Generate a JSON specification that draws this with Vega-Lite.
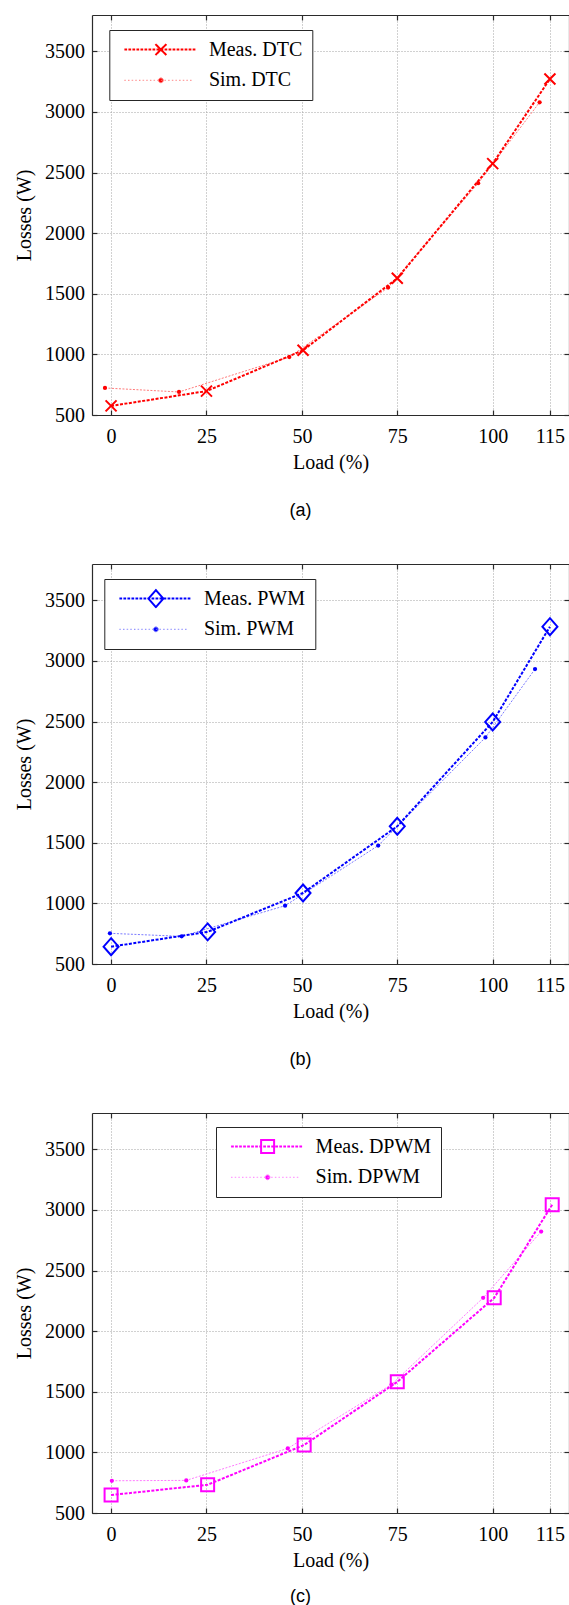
{
  "$schema": "https://vega.github.io/schema/vega-lite/v6.json",
  "background": "white",
  "padding": {"left": 14, "top": 14, "right": 0, "bottom": 0},
  "bounds": "flush",
  "spacing": 149,
  "resolve": {"scale": {"color": "independent"}, "legend": {"color": "independent"}},
  "datasets": {
    "dtcMeas": [
      {"load": 0, "loss": 575, "series": "Meas. DTC"},
      {"load": 25, "loss": 697, "series": "Meas. DTC"},
      {"load": 50.3, "loss": 1034, "series": "Meas. DTC"},
      {"load": 75, "loss": 1628, "series": "Meas. DTC"},
      {"load": 100, "loss": 2574, "series": "Meas. DTC"},
      {"load": 115, "loss": 3272, "series": "Meas. DTC"}
    ],
    "dtcSim": [
      {"load": -1.6, "loss": 723, "series": "Sim. DTC"},
      {"load": 17.8, "loss": 690, "series": "Sim. DTC"},
      {"load": 46.7, "loss": 978, "series": "Sim. DTC"},
      {"load": 72.6, "loss": 1551, "series": "Sim. DTC"},
      {"load": 96.2, "loss": 2412, "series": "Sim. DTC"},
      {"load": 112.3, "loss": 3080, "series": "Sim. DTC"}
    ],
    "pwmMeas": [
      {"load": 0, "loss": 643, "series": "Meas. PWM"},
      {"load": 25.3, "loss": 765, "series": "Meas. PWM"},
      {"load": 50.3, "loss": 1086, "series": "Meas. PWM"},
      {"load": 75, "loss": 1636, "series": "Meas. PWM"},
      {"load": 100, "loss": 2497, "series": "Meas. PWM"},
      {"load": 115, "loss": 3283, "series": "Meas. PWM"}
    ],
    "pwmSim": [
      {"load": -0.3, "loss": 753, "series": "Sim. PWM"},
      {"load": 18.5, "loss": 728, "series": "Sim. PWM"},
      {"load": 45.6, "loss": 981, "series": "Sim. PWM"},
      {"load": 70.0, "loss": 1477, "series": "Sim. PWM"},
      {"load": 98.1, "loss": 2369, "series": "Sim. PWM"},
      {"load": 111.1, "loss": 2933, "series": "Sim. PWM"}
    ],
    "dpwmMeas": [
      {"load": 0, "loss": 648, "series": "Meas. DPWM"},
      {"load": 25.3, "loss": 733, "series": "Meas. DPWM"},
      {"load": 50.6, "loss": 1061, "series": "Meas. DPWM"},
      {"load": 75, "loss": 1582, "series": "Meas. DPWM"},
      {"load": 100.4, "loss": 2275, "series": "Meas. DPWM"},
      {"load": 115.6, "loss": 3044, "series": "Meas. DPWM"}
    ],
    "dpwmSim": [
      {"load": 0.2, "loss": 766, "series": "Sim. DPWM"},
      {"load": 19.7, "loss": 769, "series": "Sim. DPWM"},
      {"load": 46.3, "loss": 1033, "series": "Sim. DPWM"},
      {"load": 73.5, "loss": 1560, "series": "Sim. DPWM"},
      {"load": 97.5, "loss": 2275, "series": "Sim. DPWM"},
      {"load": 112.7, "loss": 2822, "series": "Sim. DPWM"}
    ]
  },
  "config": {
    "view": {"stroke": null},
    "axis": {
      "labelFont": "Liberation Serif", "labelFontSize": 20, "labelColor": "#000000",
      "titleFont": "Liberation Serif", "titleFontSize": 20, "titleFontWeight": "normal", "titleColor": "#000000",
      "domainColor": "#2b2b2b", "domainWidth": 1.2,
      "tickColor": "#2b2b2b", "tickWidth": 1.2, "tickSize": -5,
      "gridColor": "#a3a3a3", "gridDash": [1, 2], "gridWidth": 1, "gridOpacity": 1,
      "format": "d"
    },
    "legend": {
      "labelFont": "Liberation Serif", "labelFontSize": 20, "labelColor": "#000000", "labelLimit": 400,
      "padding": 9.6, "rowPadding": 10.7, "symbolOffset": 5, "labelOffset": 11, "clipHeight": 20,
      "symbolSize": 5329, "symbolStrokeWidth": 2, "strokeColor": "#262626", "fillColor": "#ffffff", "cornerRadius": 0
    }
  },
  "vconcat": [
    {
      "width": 477, "height": 400,
      "title": {"text": "(a)", "orient": "bottom", "anchor": "middle", "frame": "group", "dx": -30, "offset": 30, "font": "Liberation Sans", "fontSize": 18, "fontWeight": "normal", "color": "#000000"},
      "resolve": {"axis": {"x": "independent", "y": "independent"}},
      "layer": [
        {
          "data": {"name": "dtcSim"},
          "mark": {"type": "line", "strokeWidth": 1, "strokeDash": [2, 1.5]},
          "encoding": {
            "x": {"field": "load", "type": "quantitative", "scale": {"domain": [-5, 120], "nice": false, "zero": false}, "axis": {"orient": "top", "labels": false, "grid": false, "values": [0, 25, 50, 75, 100, 115], "title": null}},
            "y": {"field": "loss", "type": "quantitative", "scale": {"domain": [500, 3800], "nice": false, "zero": false}, "axis": {"orient": "right", "labels": false, "grid": false, "values": [500, 1000, 1500, 2000, 2500, 3000, 3500], "title": null}},
            "color": {"field": "series", "type": "nominal", "scale": {"domain": ["Meas. DTC", "Sim. DTC"], "range": ["#ff0000", "#ff7a7a"]},
              "legend": {"orient": "none", "legendX": 17.3, "legendY": 15, "title": null,
                "encode": {"symbols": {"update": {
                  "size": {"value": 5329},
                  "shape": {"signal": "(datum.index === 0 ? 'M-1,0h0.075m0.035,0h0.075m0.035,0h0.075m0.035,0h0.075m0.035,0h0.075m0.035,0h0.075m0.035,0h0.075m0.035,0h0.075m0.035,0h0.075m0.035,0h0.075m0.035,0h0.075m0.035,0h0.075m0.035,0h0.075m0.035,0h0.075m0.035,0h0.075m0.035,0h0.075m0.035,0h0.075m0.035,0h0.075M-0.15,-0.15L0.15,0.15M-0.15,0.15L0.15,-0.15' : 'M-1,0h0.04m0.06,0h0.04m0.06,0h0.04m0.06,0h0.04m0.06,0h0.04m0.06,0h0.04m0.06,0h0.04m0.06,0h0.04m0.06,0h0.04m0.06,0h0.04m0.06,0h0.04m0.06,0h0.04m0.06,0h0.04m0.06,0h0.04m0.06,0h0.04m0.06,0h0.04m0.06,0h0.04m0.06,0h0.04m0.06,0h0.04M0.065,0A0.065,0.065,0,1,1,-0.065,0A0.065,0.065,0,1,1,0.065,0Z')"},
                  "fill": {"signal": "(datum.index === 0 ? 'transparent' : '#ff0000')"},
                  "stroke": {"signal": "(datum.index === 0 ? '#ff0000' : '#ff7a7a')"},
                  "strokeWidth": {"signal": "(datum.index === 0 ? 2 : 1)"},
                  "strokeDash": {"value": [1, 0]},
                  "opacity": {"value": 1}
                }}}
              }
            }
          }
        },
        {
          "data": {"name": "dtcMeas"},
          "mark": {"type": "line", "strokeWidth": 2, "strokeDash": [3, 1.5]},
          "encoding": {
            "x": {"field": "load", "type": "quantitative", "axis": {"orient": "bottom", "grid": true, "values": [0, 25, 50, 75, 100, 115], "title": "Load (%)", "labelPadding": 16, "titlePadding": 6}},
            "y": {"field": "loss", "type": "quantitative", "axis": {"orient": "left", "grid": true, "values": [500, 1000, 1500, 2000, 2500, 3000, 3500], "title": "Losses (W)", "labelPadding": 12.5, "titlePadding": 10.2}},
            "color": {"field": "series", "type": "nominal"}
          }
        },
        {
          "data": {"name": "dtcSim"},
          "mark": {"type": "circle", "size": 18, "color": "#ff0000", "opacity": 1},
          "encoding": {
            "x": {"field": "load", "type": "quantitative", "axis": null},
            "y": {"field": "loss", "type": "quantitative", "axis": null}
          }
        },
        {
          "data": {"name": "dtcMeas"},
          "mark": {"type": "point", "shape": "M-1,-1L1,1M-1,1L1,-1", "size": 121, "filled": false, "stroke": "#ff0000", "strokeWidth": 2, "opacity": 1},
          "encoding": {
            "x": {"field": "load", "type": "quantitative", "axis": null},
            "y": {"field": "loss", "type": "quantitative", "axis": null}
          }
        }
      ]
    },
    {
      "width": 477, "height": 400,
      "title": {"text": "(b)", "orient": "bottom", "anchor": "middle", "frame": "group", "dx": -30, "offset": 30, "font": "Liberation Sans", "fontSize": 18, "fontWeight": "normal", "color": "#000000"},
      "resolve": {"axis": {"x": "independent", "y": "independent"}},
      "layer": [
        {
          "data": {"name": "pwmSim"},
          "mark": {"type": "line", "strokeWidth": 1, "strokeDash": [2, 1.5]},
          "encoding": {
            "x": {"field": "load", "type": "quantitative", "scale": {"domain": [-5, 120], "nice": false, "zero": false}, "axis": {"orient": "top", "labels": false, "grid": false, "values": [0, 25, 50, 75, 100, 115], "title": null}},
            "y": {"field": "loss", "type": "quantitative", "scale": {"domain": [500, 3800], "nice": false, "zero": false}, "axis": {"orient": "right", "labels": false, "grid": false, "values": [500, 1000, 1500, 2000, 2500, 3000, 3500], "title": null}},
            "color": {"field": "series", "type": "nominal", "scale": {"domain": ["Meas. PWM", "Sim. PWM"], "range": ["#0000ff", "#7a7aff"]},
              "legend": {"orient": "none", "legendX": 12.3, "legendY": 15, "title": null,
                "encode": {"symbols": {"update": {
                  "size": {"value": 5329},
                  "shape": {"signal": "(datum.index === 0 ? 'M-1,0h0.075m0.035,0h0.075m0.035,0h0.075m0.035,0h0.075m0.035,0h0.075m0.035,0h0.075m0.035,0h0.075m0.035,0h0.075m0.035,0h0.075m0.035,0h0.075m0.035,0h0.075m0.035,0h0.075m0.035,0h0.075m0.035,0h0.075m0.035,0h0.075m0.035,0h0.075m0.035,0h0.075m0.035,0h0.075M0,-0.233L0.205,0L0,0.233L-0.205,0Z' : 'M-1,0h0.04m0.06,0h0.04m0.06,0h0.04m0.06,0h0.04m0.06,0h0.04m0.06,0h0.04m0.06,0h0.04m0.06,0h0.04m0.06,0h0.04m0.06,0h0.04m0.06,0h0.04m0.06,0h0.04m0.06,0h0.04m0.06,0h0.04m0.06,0h0.04m0.06,0h0.04m0.06,0h0.04m0.06,0h0.04m0.06,0h0.04M0.065,0A0.065,0.065,0,1,1,-0.065,0A0.065,0.065,0,1,1,0.065,0Z')"},
                  "fill": {"signal": "(datum.index === 0 ? 'transparent' : '#0000ff')"},
                  "stroke": {"signal": "(datum.index === 0 ? '#0000ff' : '#7a7aff')"},
                  "strokeWidth": {"signal": "(datum.index === 0 ? 2 : 1)"},
                  "strokeDash": {"value": [1, 0]},
                  "opacity": {"value": 1}
                }}}
              }
            }
          }
        },
        {
          "data": {"name": "pwmMeas"},
          "mark": {"type": "line", "strokeWidth": 2, "strokeDash": [3, 1.5]},
          "encoding": {
            "x": {"field": "load", "type": "quantitative", "axis": {"orient": "bottom", "grid": true, "values": [0, 25, 50, 75, 100, 115], "title": "Load (%)", "labelPadding": 16, "titlePadding": 6}},
            "y": {"field": "loss", "type": "quantitative", "axis": {"orient": "left", "grid": true, "values": [500, 1000, 1500, 2000, 2500, 3000, 3500], "title": "Losses (W)", "labelPadding": 12.5, "titlePadding": 10.2}},
            "color": {"field": "series", "type": "nominal"}
          }
        },
        {
          "data": {"name": "pwmSim"},
          "mark": {"type": "circle", "size": 18, "color": "#0000ff", "opacity": 1},
          "encoding": {
            "x": {"field": "load", "type": "quantitative", "axis": null},
            "y": {"field": "loss", "type": "quantitative", "axis": null}
          }
        },
        {
          "data": {"name": "pwmMeas"},
          "mark": {"type": "point", "shape": "M0,-1.13L1,0L0,1.13L-1,0Z", "size": 225, "filled": false, "stroke": "#0000ff", "strokeWidth": 2, "opacity": 1},
          "encoding": {
            "x": {"field": "load", "type": "quantitative", "axis": null},
            "y": {"field": "loss", "type": "quantitative", "axis": null}
          }
        }
      ]
    },
    {
      "width": 477, "height": 400,
      "title": {"text": "(c)", "orient": "bottom", "anchor": "middle", "frame": "group", "dx": -30, "offset": 18, "font": "Liberation Sans", "fontSize": 18, "fontWeight": "normal", "color": "#000000"},
      "resolve": {"axis": {"x": "independent", "y": "independent"}},
      "layer": [
        {
          "data": {"name": "dpwmSim"},
          "mark": {"type": "line", "strokeWidth": 1, "strokeDash": [2, 1.5]},
          "encoding": {
            "x": {"field": "load", "type": "quantitative", "scale": {"domain": [-5, 120], "nice": false, "zero": false}, "axis": {"orient": "top", "labels": false, "grid": false, "values": [0, 25, 50, 75, 100, 115], "title": null}},
            "y": {"field": "loss", "type": "quantitative", "scale": {"domain": [500, 3800], "nice": false, "zero": false}, "axis": {"orient": "right", "labels": false, "grid": false, "values": [500, 1000, 1500, 2000, 2500, 3000, 3500], "title": null}},
            "color": {"field": "series", "type": "nominal", "scale": {"domain": ["Meas. DPWM", "Sim. DPWM"], "range": ["#ff00ff", "#ff7aff"]},
              "legend": {"orient": "none", "legendX": 124, "legendY": 14, "title": null,
                "encode": {"symbols": {"update": {
                  "size": {"value": 5329},
                  "shape": {"signal": "(datum.index === 0 ? 'M-1,0h0.075m0.035,0h0.075m0.035,0h0.075m0.035,0h0.075m0.035,0h0.075m0.035,0h0.075m0.035,0h0.075m0.035,0h0.075m0.035,0h0.075m0.035,0h0.075m0.035,0h0.075m0.035,0h0.075m0.035,0h0.075m0.035,0h0.075m0.035,0h0.075m0.035,0h0.075m0.035,0h0.075m0.035,0h0.075M-0.178,-0.178L0.178,-0.178L0.178,0.178L-0.178,0.178Z' : 'M-1,0h0.04m0.06,0h0.04m0.06,0h0.04m0.06,0h0.04m0.06,0h0.04m0.06,0h0.04m0.06,0h0.04m0.06,0h0.04m0.06,0h0.04m0.06,0h0.04m0.06,0h0.04m0.06,0h0.04m0.06,0h0.04m0.06,0h0.04m0.06,0h0.04m0.06,0h0.04m0.06,0h0.04m0.06,0h0.04m0.06,0h0.04M0.065,0A0.065,0.065,0,1,1,-0.065,0A0.065,0.065,0,1,1,0.065,0Z')"},
                  "fill": {"signal": "(datum.index === 0 ? 'transparent' : '#ff00ff')"},
                  "stroke": {"signal": "(datum.index === 0 ? '#ff00ff' : '#ff7aff')"},
                  "strokeWidth": {"signal": "(datum.index === 0 ? 2 : 1)"},
                  "strokeDash": {"value": [1, 0]},
                  "opacity": {"value": 1}
                }}}
              }
            }
          }
        },
        {
          "data": {"name": "dpwmMeas"},
          "mark": {"type": "line", "strokeWidth": 2, "strokeDash": [3, 1.5]},
          "encoding": {
            "x": {"field": "load", "type": "quantitative", "axis": {"orient": "bottom", "grid": true, "values": [0, 25, 50, 75, 100, 115], "title": "Load (%)", "labelPadding": 16, "titlePadding": 6}},
            "y": {"field": "loss", "type": "quantitative", "axis": {"orient": "left", "grid": true, "values": [500, 1000, 1500, 2000, 2500, 3000, 3500], "title": "Losses (W)", "labelPadding": 12.5, "titlePadding": 10.2}},
            "color": {"field": "series", "type": "nominal"}
          }
        },
        {
          "data": {"name": "dpwmSim"},
          "mark": {"type": "circle", "size": 18, "color": "#ff00ff", "opacity": 1},
          "encoding": {
            "x": {"field": "load", "type": "quantitative", "axis": null},
            "y": {"field": "loss", "type": "quantitative", "axis": null}
          }
        },
        {
          "data": {"name": "dpwmMeas"},
          "mark": {"type": "point", "shape": "square", "size": 169, "filled": false, "stroke": "#ff00ff", "strokeWidth": 2, "opacity": 1},
          "encoding": {
            "x": {"field": "load", "type": "quantitative", "axis": null},
            "y": {"field": "loss", "type": "quantitative", "axis": null}
          }
        }
      ]
    }
  ]
}
